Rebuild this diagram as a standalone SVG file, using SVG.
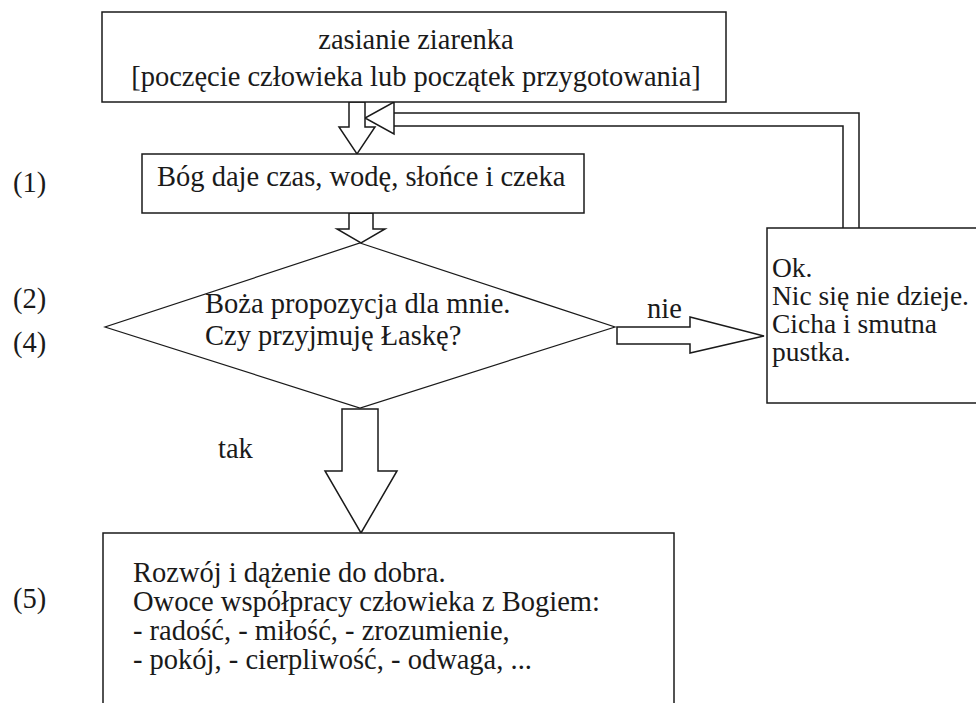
<svg xmlns="http://www.w3.org/2000/svg" width="976" height="703" viewBox="0 0 976 703">
<style>
  .box { fill: #fff; stroke: #1a1a1a; stroke-width: 1.5; }
  .dia { fill: #fff; stroke: #1a1a1a; stroke-width: 1.2; }
  .arr { fill: #fff; stroke: #1a1a1a; stroke-width: 1.5; stroke-linejoin: miter; }
  .ln { fill: none; stroke: #1a1a1a; stroke-width: 1.5; }
  text { font-family: "Liberation Serif", "Times New Roman", serif; font-size: 28.5px; fill: #1a1a1a; }
  .c { text-anchor: middle; }
  .sm { font-size: 27.5px; }
</style>
<rect width="976" height="703" fill="#fff"/>

<g id="connectors">
  <polyline class="ln" points="394,113 859,113 859,228"/>
  <polyline class="ln" points="394,126 843,126 843,228"/>
  <polygon class="arr" points="394,113 394,102 365,118 394,134 394,126"/>
  <polygon class="arr" points="349,102 365,102 365,127 375,127 357,154 339,127 349,127"/>
  <polygon class="arr" points="349,213 373,213 373,229 385,229 361,243 337,229 349,229"/>
  <polygon class="arr" points="617,327 690,327 690,317 764,336 690,353 690,344 617,344"/>
  <polygon class="arr" points="342,409 378,409 378,471 397,471 361,533 325,471 342,471"/>
  <text x="647" y="318">nie</text>
  <text x="218" y="458">tak</text>
</g>

<g id="node-start">
  <rect class="box" x="102" y="12" width="624" height="90"/>
  <text class="c" x="416" y="49">zasianie ziarenka</text>
  <text class="c" x="416" y="86">[poczęcie człowieka lub początek przygotowania]</text>
</g>

<g id="node-1">
  <rect class="box" x="142" y="154" width="442" height="59"/>
  <text x="157" y="186">Bóg daje czas, wodę, słońce i czeka</text>
</g>

<g id="node-decision">
  <polygon class="dia" points="360,243 615,327 360,408 105,327"/>
  <text x="205" y="313">Boża propozycja dla mnie.</text>
  <text x="205" y="345">Czy przyjmuję Łaskę?</text>
</g>

<g id="node-no">
  <rect class="box" x="767" y="228" width="220" height="175"/>
  <text class="sm" x="772" y="277">Ok.</text>
  <text class="sm" x="772" y="305">Nic się nie dzieje.</text>
  <text class="sm" x="772" y="333">Cicha i smutna</text>
  <text class="sm" x="772" y="361">pustka.</text>
</g>

<g id="node-yes">
  <rect class="box" x="103" y="533" width="571" height="190"/>
  <text x="133" y="582">Rozwój i dążenie do dobra.</text>
  <text x="133" y="611">Owoce współpracy człowieka z Bogiem:</text>
  <text x="133" y="640">- radość, - miłość, - zrozumienie,</text>
  <text x="133" y="669">- pokój, - cierpliwość, - odwaga, ...</text>
</g>

<g id="labels">
  <text x="13" y="192">(1)</text>
  <text x="13" y="308">(2)</text>
  <text x="13" y="352">(4)</text>
  <text x="13" y="608">(5)</text>
</g>
</svg>
